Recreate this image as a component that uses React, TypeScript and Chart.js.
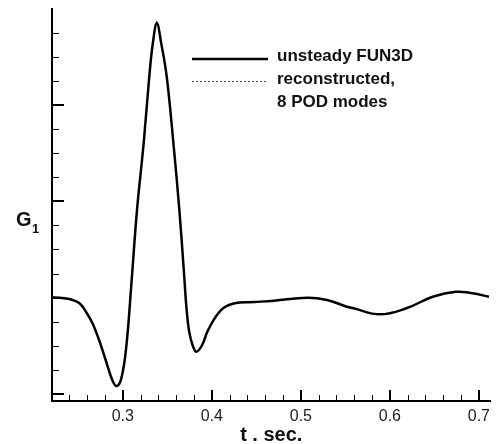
import { useEffect, useRef } from "react";
import { Chart, registerables } from "chart.js";

Chart.register(...registerables);

// ---- data ----
const timeSec = [
  0.2204, 0.2287, 0.2399, 0.251, 0.2585, 0.2658, 0.2733, 0.2807, 0.2881, 0.293,
  0.2983, 0.3039, 0.3095, 0.3159, 0.3234, 0.3297, 0.3337, 0.3382, 0.3431, 0.3493,
  0.3568, 0.3635, 0.369, 0.3716, 0.3746, 0.3785, 0.3827, 0.3891, 0.3958, 0.4106,
  0.4255, 0.4478, 0.47, 0.5071, 0.5294, 0.5517, 0.5591, 0.5888, 0.6185, 0.6482,
  0.6742, 0.6928, 0.7113,
];
const unsteadyFun3d = [
  1.0, 0.997, 0.984, 0.943, 0.852, 0.734, 0.557, 0.349, 0.141, 0.078,
  0.158, 0.49, 1.13, 1.911, 2.609, 3.3, 3.648, 3.856, 3.648, 3.3,
  2.609, 1.911, 1.216, 0.88, 0.64, 0.5, 0.435, 0.505, 0.661, 0.87,
  0.94, 0.953, 0.967, 0.998, 0.974, 0.904, 0.8875, 0.825, 0.8875, 1.008,
  1.06, 1.044, 1.008,
];
const reconstructedPod = [
  1.0, 0.997, 0.984, 0.943, 0.852, 0.734, 0.557, 0.349, 0.141, 0.078,
  0.158, 0.49, 1.13, 1.911, 2.609, 3.3, 3.655, 3.878, 3.655, 3.3,
  2.609, 1.911, 1.216, 0.88, 0.64, 0.5, 0.435, 0.505, 0.661, 0.87,
  0.94, 0.953, 0.967, 0.998, 0.974, 0.904, 0.8875, 0.825, 0.8875, 1.008,
  1.06, 1.044, 1.008,
];
const xTickValues = [0.3, 0.4, 0.5, 0.6, 0.7];
const xMinorTicks = [
  0.24, 0.26, 0.28, 0.32, 0.34, 0.36, 0.38, 0.42, 0.44, 0.46, 0.48,
  0.52, 0.54, 0.56, 0.58, 0.62, 0.64, 0.66, 0.68,
];
const yMajorTicks = [0, 1, 2, 3];
const yMinorTicks = [0.25, 0.5, 0.75, 1.25, 1.5, 1.75, 2.25, 2.5, 2.75, 3.25, 3.5, 3.75];
const legendLabels = ["unsteady FUN3D", "reconstructed,", "8 POD modes"];
const xTitle = "t . sec.";
const yTitleMain = "G";
const yTitleSub = "1";

const FONT = "'Liberation Sans', Arial, Helvetica, sans-serif";

const decorPlugin = {
  id: "decor",
  beforeDatasetsDraw(chart: any) {
    const { ctx, chartArea, scales } = chart;
    const xs = scales.x;
    const ys = scales.y;
    ctx.save();
    ctx.strokeStyle = "#000";
    ctx.lineWidth = 2;
    xTickValues.forEach((v) => {
      const px = Math.round(xs.getPixelForValue(v));
      ctx.beginPath();
      ctx.moveTo(px, chartArea.bottom);
      ctx.lineTo(px, chartArea.bottom - 11);
      ctx.stroke();
    });
    ctx.lineWidth = 1;
    xMinorTicks.forEach((v) => {
      const px = Math.round(xs.getPixelForValue(v)) + 0.5;
      ctx.beginPath();
      ctx.moveTo(px, chartArea.bottom);
      ctx.lineTo(px, chartArea.bottom - 6);
      ctx.stroke();
    });
    ctx.lineWidth = 2;
    yMajorTicks.forEach((v) => {
      const py = Math.round(ys.getPixelForValue(v));
      ctx.beginPath();
      ctx.moveTo(chartArea.left, py);
      ctx.lineTo(chartArea.left + 12, py);
      ctx.stroke();
    });
    ctx.lineWidth = 1;
    yMinorTicks.forEach((v) => {
      const py = Math.round(ys.getPixelForValue(v)) + 0.5;
      ctx.beginPath();
      ctx.moveTo(chartArea.left, py);
      ctx.lineTo(chartArea.left + 7, py);
      ctx.stroke();
    });
    ctx.restore();
  },
  afterDraw(chart: any) {
    const { ctx, chartArea } = chart;
    ctx.save();
    ctx.fillStyle = "#111";
    ctx.textBaseline = "middle";
    ctx.textAlign = "left";
    ctx.font = `bold 20px ${FONT}`;
    ctx.fillText(yTitleMain, chartArea.left - 36, 220);
    ctx.font = `bold 13px ${FONT}`;
    ctx.fillText(yTitleSub, chartArea.left - 20, 229);

    const lx0 = chartArea.left + 140;
    const lx1 = chartArea.left + 216;
    const tx = chartArea.left + 225;
    ctx.strokeStyle = "#000";
    ctx.lineWidth = 2.5;
    ctx.beginPath();
    ctx.moveTo(lx0, 59);
    ctx.lineTo(lx1, 59);
    ctx.stroke();
    ctx.lineWidth = 1;
    ctx.strokeStyle = "#444";
    ctx.setLineDash([2, 2]);
    ctx.beginPath();
    ctx.moveTo(lx0, 81.5);
    ctx.lineTo(lx1, 81.5);
    ctx.stroke();
    ctx.setLineDash([]);
    ctx.font = `bold 17px ${FONT}`;
    ctx.fillStyle = "#111";
    ctx.fillText(legendLabels[0], tx, 56);
    ctx.fillText(legendLabels[1], tx, 79);
    ctx.fillText(legendLabels[2], tx, 102);
    ctx.restore();
  },
};

export default function App() {
  const canvasRef = useRef<HTMLCanvasElement | null>(null);

  useEffect(() => {
    const canvas = canvasRef.current;
    if (!canvas) return;
    const chart = new Chart(canvas, {
      type: "line",
      data: {
        datasets: [
          {
            label: legendLabels[0],
            data: timeSec.map((t, i) => ({ x: t, y: unsteadyFun3d[i] })),
            borderColor: "#000",
            borderWidth: 2.5,
            pointRadius: 0,
            tension: 0.4,
            fill: false,
            order: 0,
          },
          {
            label: legendLabels[1] + " " + legendLabels[2],
            data: timeSec.map((t, i) => ({ x: t, y: reconstructedPod[i] })),
            borderColor: "#444",
            borderWidth: 1,
            borderDash: [2, 2],
            pointRadius: 0,
            tension: 0.4,
            fill: false,
            order: 1,
          },
        ],
      },
      options: {
        responsive: false,
        animation: false,
        events: [],
        layout: { padding: { top: 9, right: 1, left: 0, bottom: 0 } },
        plugins: {
          legend: { display: false },
          tooltip: { enabled: false },
        },
        scales: {
          x: {
            type: "linear",
            min: 0.2204,
            max: 0.7131,
            afterBuildTicks: (scale: any) => {
              scale.ticks = xTickValues.map((v) => ({ value: v }));
            },
            afterFit: (scale: any) => {
              scale.height = 43;
            },
            grid: { display: false, drawTicks: false },
            border: { display: true, color: "#000", width: 2 },
            ticks: {
              padding: 6,
              color: "#222",
              font: { family: FONT, size: 16 },
              maxRotation: 0,
              callback: (v: any) => Number(v).toFixed(1),
            },
            title: {
              display: true,
              text: xTitle,
              color: "#111",
              font: { family: FONT, size: 20, weight: "bold", lineHeight: 1 },
              padding: { top: 0, bottom: -1 },
            },
          },
          y: {
            type: "linear",
            min: -0.078,
            max: 4.005,
            afterFit: (scale: any) => {
              scale.width = 52;
            },
            grid: { display: false, drawTicks: false },
            border: { display: true, color: "#000", width: 2 },
            ticks: { display: false },
          },
        },
      },
      plugins: [decorPlugin],
    } as any);
    return () => chart.destroy();
  }, []);

  return (
    <div style={{ position: "fixed", left: 0, top: 0, width: 496, height: 444, background: "#fff" }}>
      <canvas ref={canvasRef} width={496} height={444} style={{ display: "block" }} />
    </div>
  );
}
